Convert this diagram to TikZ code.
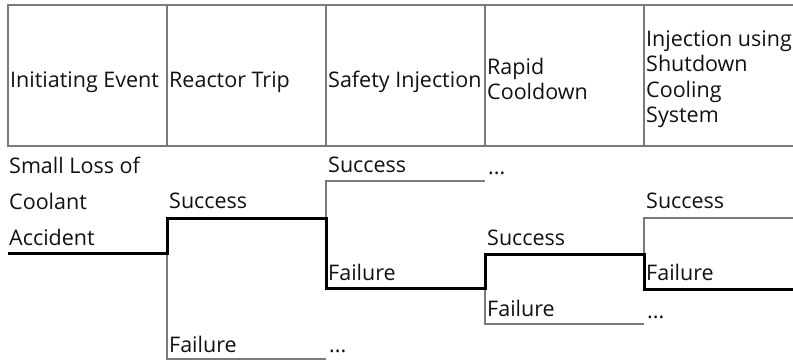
\documentclass[tikz,border=0pt]{standalone}
\usepackage{fontspec}
\setmainfont{Open Sans}
\definecolor{gridgray}{HTML}{7A7A7A}
\definecolor{txt}{HTML}{111111}
\begin{document}
\begin{tikzpicture}[x=1pt,y=-1pt,
  grid/.style={draw=gridgray,line width=1.4pt},
  thickpath/.style={draw=black,line width=3pt,line join=miter},
  thinpath/.style={draw=gridgray,line width=1.3pt},
  lbl/.style={anchor=base west,inner sep=0pt,text=txt,font=\fontsize{21.5}{25.5}\selectfont},
  hdr/.style={lbl,anchor=west,align=left}]
\useasboundingbox (0,0) rectangle (793,360);
% header table
\draw[grid] (793,5) -- (8,5) -- (8,146) -- (793,146);
\foreach \xx in {167,326,485,644} \draw[grid] (\xx,5) -- (\xx,146);
\node[lbl] (h1) at (10,87) {Initiating Event};
\node[lbl] (h2) at (169,87) {Reactor Trip};
\node[lbl] (h3) at (328,87) {Safety Injection};
\node[hdr] (h4) at (487,79) {Rapid\\Cooldown};
\node[hdr] (h5) at (646,79) {Injection using\\Shutdown\\Cooling\\System};
% branch points
\coordinate (s0) at (8,253);
\coordinate (b1) at (167,253);
\coordinate (b1u) at (167,218);
\coordinate (b1d) at (167,359);
\coordinate (e1d) at (326,359);
\coordinate (b2) at (326,218);
\coordinate (b2u) at (326,181);
\coordinate (e2u) at (485,181);
\coordinate (b2d) at (326,288);
\coordinate (b3) at (485,288);
\coordinate (b3u) at (485,254);
\coordinate (b3d) at (485,324);
\coordinate (e3d) at (644,324);
\coordinate (b4) at (644,254);
\coordinate (b4u) at (644,218);
\coordinate (e4u) at (793,218);
\coordinate (b4d) at (644,289);
\coordinate (e4d) at (793,289);
% thin branches
\draw[thinpath] (b1) -- (b1d) -- (e1d);
\draw[thinpath] (b2) -- (b2u) -- (e2u);
\draw[thinpath] (b3) -- (b3d) -- (e3d);
\draw[thinpath] (b4) -- (b4u) -- (e4u);
% highlighted sequence
\draw[thickpath] (s0) -- (b1) -- (b1u) -- (b2) -- (b2d) -- (b3) -- (b3u) -- (b4) -- (b4d) -- (e4d);
% labels
\node[lbl] (ie1) at (9,173) {Small Loss of};
\node[lbl] (ie2) at (9,209) {Coolant};
\node[lbl] (ie3) at (9,245) {Accident};
\node[lbl] (rts) at (169,208) {Success};
\node[lbl] (rtf) at (169,352) {Failure};
\node[lbl] (rtd) at (329,352) {...};
\node[lbl] (sis) at (328,172) {Success};
\node[lbl] (sid) at (488,174) {...};
\node[lbl] (sif) at (328,280) {Failure};
\node[lbl] (rcs) at (487,245) {Success};
\node[lbl] (rcf) at (487,316) {Failure};
\node[lbl] (rcd) at (647,318) {...};
\node[lbl] (iss) at (646,208) {Success};
\node[lbl] (isf) at (646,280) {Failure};
\end{tikzpicture}
\end{document}
